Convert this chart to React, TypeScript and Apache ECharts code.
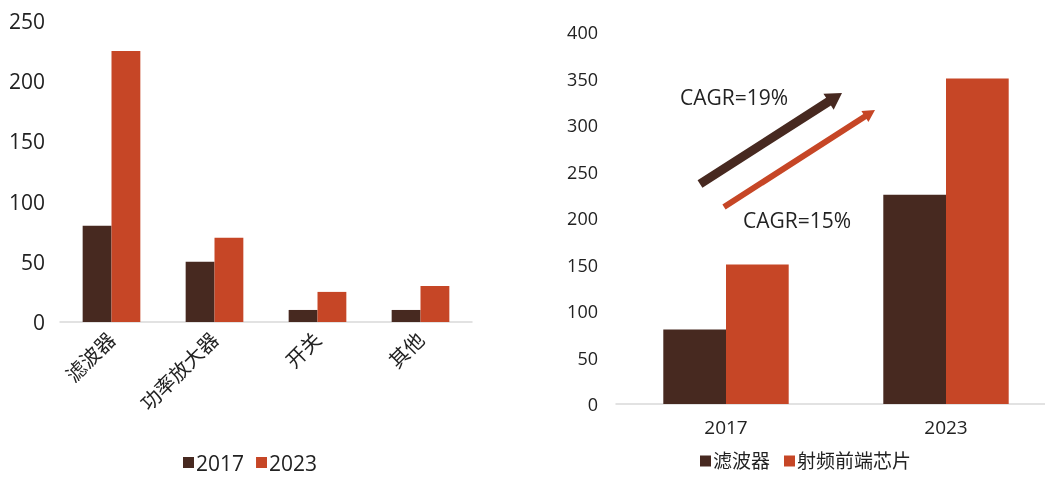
import React, { useEffect, useRef } from "react";
import * as echarts from "echarts";

const leftCategories = ["滤波器", "功率放大器", "开关", "其他"];
const left2017 = [80, 50, 10, 10];
const left2023 = [225, 70, 25, 30];

const rightCategories = ["2017", "2023"];
const rightFilter = [80, 225];
const rightRFFE = [150, 350];

const cagrLabels = ["CAGR=19%", "CAGR=15%"];

const DARK = "#472920";
const ORANGE = "#C64626";
const FONT = "'Open Sans', 'Noto Sans CJK SC', sans-serif";

function arrowPoints(x1: number, y1: number, x2: number, y2: number, shaft: number, headW: number, headL: number) {
  const dx = x2 - x1, dy = y2 - y1;
  const len = Math.sqrt(dx * dx + dy * dy);
  const ux = dx / len, uy = dy / len;
  const nx = -uy, ny = ux;
  const bx = x2 - ux * headL, by = y2 - uy * headL;
  const s = shaft / 2, h = headW / 2;
  return [
    [x1 + nx * s, y1 + ny * s],
    [bx + nx * s, by + ny * s],
    [bx + nx * h, by + ny * h],
    [x2, y2],
    [bx - nx * h, by - ny * h],
    [bx - nx * s, by - ny * s],
    [x1 - nx * s, y1 - ny * s],
  ];
}

export default function App() {
  const ref = useRef<HTMLDivElement>(null);
  useEffect(() => {
    if (!ref.current) return;
    const chart = echarts.init(ref.current, null, { renderer: "svg" });
    const axisLine = { show: true, lineStyle: { color: "#D9D9D9", width: 1.5 } };
    chart.setOption({
      animation: false,
      textStyle: { fontFamily: FONT },
      grid: [
        { left: 60, top: 21, width: 412, height: 301 },
        { left: 616, top: 32, width: 440, height: 372 },
      ],
      xAxis: [
        {
          type: "category",
          gridIndex: 0,
          data: leftCategories,
          axisLine,
          axisTick: { show: false },
          axisLabel: { rotate: 45, fontSize: 20, color: "#222", margin: 14, fontFamily: FONT, interval: 0 },
        },
        {
          type: "category",
          gridIndex: 1,
          data: rightCategories,
          axisLine,
          axisTick: { show: false },
          axisLabel: { fontSize: 19, color: "#222", margin: 13, fontFamily: FONT },
        },
      ],
      yAxis: [
        {
          type: "value",
          gridIndex: 0,
          min: 0,
          max: 250,
          interval: 50,
          axisLine: { show: false },
          axisTick: { show: false },
          splitLine: { show: false },
          axisLabel: { fontSize: 21, color: "#222", margin: 15, fontFamily: FONT },
        },
        {
          type: "value",
          gridIndex: 1,
          min: 0,
          max: 400,
          interval: 50,
          axisLine: { show: false },
          axisTick: { show: false },
          splitLine: { show: false },
          axisLabel: { fontSize: 18, color: "#222", margin: 18, fontFamily: FONT },
        },
      ],
      legend: [
        {
          data: ["2017", "2023"],
          left: 178,
          top: 447,
          itemWidth: 11,
          itemHeight: 11,
          itemGap: 12,
          icon: "rect",
          textStyle: { fontSize: 21, color: "#222", padding: [0, 0, 0, -3], fontFamily: FONT },
        },
        {
          data: ["滤波器", "射频前端芯片"],
          left: 700,
          top: 451,
          padding: 0,
          itemWidth: 11,
          itemHeight: 11,
          itemGap: 14,
          icon: "rect",
          textStyle: { fontSize: 19, lineHeight: 20, color: "#222", padding: [0, 0, 0, -3], fontFamily: FONT },
        },
      ],
      series: [
        { name: "2017", type: "bar", xAxisIndex: 0, yAxisIndex: 0, data: left2017, itemStyle: { color: DARK }, barCategoryGap: "44%", barGap: "0%" },
        { name: "2023", type: "bar", xAxisIndex: 0, yAxisIndex: 0, data: left2023, itemStyle: { color: ORANGE }, barCategoryGap: "44%", barGap: "0%" },
        { name: "滤波器", type: "bar", xAxisIndex: 1, yAxisIndex: 1, data: rightFilter, itemStyle: { color: DARK }, barCategoryGap: "43%", barGap: "0%" },
        { name: "射频前端芯片", type: "bar", xAxisIndex: 1, yAxisIndex: 1, data: rightRFFE, itemStyle: { color: ORANGE }, barCategoryGap: "43%", barGap: "0%" },
      ],
      graphic: [
        { type: "polygon", shape: { points: arrowPoints(700, 184, 842, 93, 9, 19, 16) }, style: { fill: DARK } },
        { type: "polygon", shape: { points: arrowPoints(724, 207, 875, 110, 6, 13, 12) }, style: { fill: ORANGE } },
        { type: "text", x: 680, y: 97, style: { text: cagrLabels[0], fontSize: 21, fill: "#222", fontFamily: FONT, verticalAlign: "middle" } },
        { type: "text", x: 743, y: 220, style: { text: cagrLabels[1], fontSize: 21, fill: "#222", fontFamily: FONT, verticalAlign: "middle" } },
      ],
    });
    return () => chart.dispose();
  }, []);
  return <div ref={ref} style={{ position: "fixed", left: 0, top: 0, width: 1100, height: 477 }} />;
}
